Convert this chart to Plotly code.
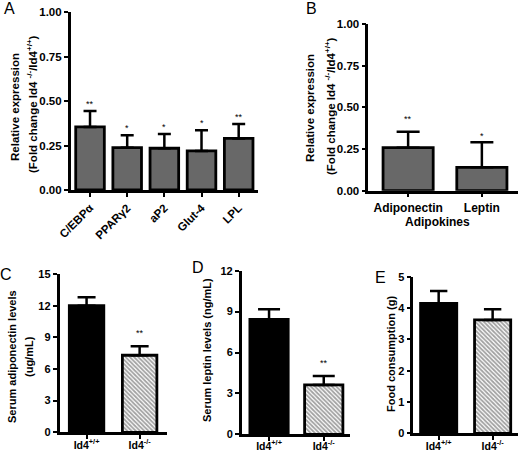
import plotly.graph_objects as go

# ---------------- data ----------------
# Panel A: adipogenic genes
genes = ["C/EBPα", "PPARγ2", "aP2", "Glut-4", "LPL"]
genes_mean = [0.355, 0.238, 0.235, 0.22, 0.29]
genes_err = [0.09, 0.07, 0.08, 0.116, 0.081]
genes_sig = ["**", "*", "*", "*", "**"]

# Panel B: adipokines
adipokines = ["Adiponectin", "Leptin"]
adipokines_mean = [0.258, 0.14]
adipokines_err = [0.096, 0.15]
adipokines_sig = ["**", "*"]

# Panels C-E: genotypes
genotypes = ["Id4<sup>+/+</sup>", "Id4<sup>-/-</sup>"]
adiponectin_mean = [12.0, 7.3]
adiponectin_err = [0.8, 0.85]
adiponectin_sig = ["", "**"]

leptin_mean = [8.43, 3.62]
leptin_err = [0.74, 0.66]
leptin_sig = ["", "**"]

food_mean = [4.15, 3.62]
food_err = [0.39, 0.34]
food_sig = ["", ""]

# ---------------- style ----------------
W, H = 520, 452
FONT = "Liberation Sans, Arial, sans-serif"
GRAY = "#686868"


def px_x(p):
    return p / W


def px_y(p):
    return 1 - p / H


fig = go.Figure()
annotations = []


def add_panel(i, cats, means, errs, sigs, xdom_px, ydom_px, yrange, dtick, tickfmt,
              xrange, bar_width, err_half, star_shift, tickangle, tick_size,
              fills, patterns, xtick_size, xstandoff=0):
    xa = "x" if i == 1 else f"x{i}"
    ya = "y" if i == 1 else f"y{i}"
    fig.add_trace(go.Bar(
        x=cats, y=means, xaxis=xa, yaxis=ya, width=bar_width,
        marker=dict(
            color=fills,
            line=dict(color="black", width=2.8),
            pattern=dict(shape=patterns, fgcolor="black", bgcolor="white",
                         size=3, solidity=0.6),
        ),
        error_y=dict(type="data", array=errs, arrayminus=[0] * len(errs),
                     symmetric=False, color="black", thickness=2.5, width=err_half),
        showlegend=False, hoverinfo="skip",
    ))
    xkey = "xaxis" if i == 1 else f"xaxis{i}"
    ykey = "yaxis" if i == 1 else f"yaxis{i}"
    fig.update_layout(**{
        xkey: dict(domain=[px_x(xdom_px[0]), px_x(xdom_px[1])], anchor=ya,
                   type="category", range=xrange, showline=True, linewidth=2.5,
                   linecolor="black", ticks="outside", ticklen=4, tickwidth=2,
                   tickcolor="black", showgrid=False, zeroline=False,
                   tickangle=tickangle, automargin=False, ticklabelstandoff=xstandoff,
                   tickfont=dict(family=FONT, size=xtick_size, color="black", weight="bold")),
        ykey: dict(domain=[px_y(ydom_px[0]), px_y(ydom_px[1])], anchor=xa,
                   range=yrange, dtick=dtick, tick0=0, tickformat=tickfmt,
                   showline=True, linewidth=2.5, linecolor="black",
                   ticks="outside", ticklen=4, tickwidth=2, tickcolor="black",
                   showgrid=False, zeroline=False, automargin=False,
                   tickfont=dict(family=FONT, size=tick_size, color="black", weight="bold")),
    })
    for k, (c, m, e, s) in enumerate(zip(cats, means, errs, sigs)):
        if s:
            annotations.append(dict(
                x=c, y=m + e, xref=xa, yref=ya, text=s, showarrow=False,
                yanchor="middle", yshift=star_shift[k] if isinstance(star_shift, list) else star_shift,
                font=dict(family=FONT, size=9, color="black")))


# Panel A
add_panel(1, genes, genes_mean, genes_err, genes_sig,
          (70.7, 258), (190, 12.3), [0, 1], 0.25, ".2f",
          [-0.52, 4.52], 0.77, 6.5, 7, -45, 11.5, [GRAY] * 5, [""] * 5, 11.5)
# Panel B
add_panel(2, adipokines, adipokines_mean, adipokines_err, adipokines_sig,
          (368.3, 518), (190.7, 24), [0, 1], 0.25, ".2f",
          [-0.54, 1.49], 0.68, 11.5, [13, 6], 0, 11.5, [GRAY] * 2, [""] * 2, 12)
# Panel C
add_panel(3, genotypes, adiponectin_mean, adiponectin_err, adiponectin_sig,
          (59.5, 166.7), (432.3, 274), [0, 15], 3, "d",
          [-0.51, 1.51], 0.65, 9, 13, 0, 11, ["black", "white"], ["", "\\"], 10.5, -3)
# Panel D
add_panel(4, genotypes, leptin_mean, leptin_err, leptin_sig,
          (241.7, 350), (434.3, 270.7), [0, 12], 3, "d",
          [-0.5, 1.48], 0.7, 11, 13, 0, 11, ["black", "white"], ["", "\\"], 10.5, -4)
# Panel E
add_panel(5, genotypes, food_mean, food_err, food_sig,
          (413.3, 518), (433.3, 276.7), [0, 5], 1, "d",
          [-0.47, 1.47], 0.67, 8.7, 13, 0, 11, ["black", "white"], ["", "\\"], 10.5, -3)


def text_ann(txt, xp, yp, size, bold=True, angle=0):
    annotations.append(dict(
        x=px_x(xp), y=px_y(yp), xref="paper", yref="paper", text=txt,
        showarrow=False, textangle=angle, xanchor="center", yanchor="middle",
        font=dict(family=FONT, size=size, color="black",
                  weight="bold" if bold else "normal")))


# y-axis titles
text_ann("Relative expression", 15, 107, 11.5, angle=-90)
text_ann("(Fold change Id4 <sup>-/-</sup>/Id4<sup>+/+</sup>)", 32, 104, 11.5, angle=-90)
text_ann("Relative expression", 310, 108, 11.5, angle=-90)
text_ann("(Fold change Id4 <sup>-/-</sup>/Id4<sup>+/+</sup>)", 330, 106, 11.5, angle=-90)
text_ann("Serum adiponectin levels", 12, 357, 11, angle=-90)
text_ann("(ug/mL)", 29, 357, 11, angle=-90)
text_ann("Serum leptin levels (ng/mL)", 207, 350, 11, angle=-90)
text_ann("Food consumption (g)", 391, 354, 11, angle=-90)
# x-axis title for B
text_ann("Adipokines", 437, 222, 12)

# panel letters
text_ann("A", 9, 8, 16, bold=False)
text_ann("B", 311, 8, 16, bold=False)
text_ann("C", 6, 274, 16, bold=False)
text_ann("D", 198, 267, 16, bold=False)
text_ann("E", 380, 277, 16, bold=False)

fig.update_layout(
    width=W, height=H, margin=dict(l=0, r=0, t=0, b=0, autoexpand=False),
    paper_bgcolor="white", plot_bgcolor="white",
    font=dict(family=FONT, color="black"),
    bargap=0.3, annotations=annotations,
)

fig.write_html(
    "out.html",
    config={"displayModeBar": False},
    post_script="document.body.style.margin='0';document.body.style.overflow='hidden';",
)
